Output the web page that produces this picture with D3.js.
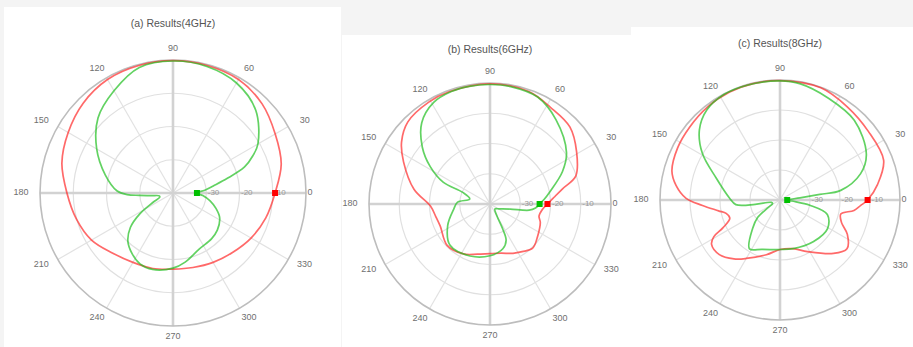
<!DOCTYPE html>
<html>
<head>
<meta charset="utf-8">
<script src="https://cdn.jsdelivr.net/npm/d3@7"></script>
<style>
  html, body { margin: 0; padding: 0; background: #f4f4f4; }
  svg { display: block; font-family: "Liberation Sans", Arial, sans-serif; }
</style>
</head>
<body>
<svg id="chart" width="913" height="347"></svg>
<script>
// ---- data (angles in degrees, levels in dB) ----
const titles = ["(a) Results(4GHz)", "(b) Results(6GHz)", "(c) Results(8GHz)"];
const angleTicks = [0, 30, 60, 90, 120, 150, 180, 210, 240, 270, 300, 330];
const radialTicks = [-30, -20, -10, 0];
const radialDomain = [-40, 0];

const red4Angles = [0,15,30,45,60,75,90,105,120,135,150,165,180,195,210,225,240,255,270,285,300,315,330,345];
const red4Db = [-9.3,-6.3,-4.5,-2.1,-0.6,-0.3,-0.2,-0.3,-0.6,-1.8,-3.6,-5.4,-8.1,-9.9,-11.7,-14.4,-15.9,-16.5,-17.1,-16.8,-15.9,-14.7,-12.9,-11.1];

const green4Angles = [0,5,10,15,20,25,30,45,60,75,90,105,120,135,150,165,178,182,184,187,192,198,205,212,219,227,236,245,255,270,280,295,310,320,332,340,348,355];
const green4Db = [-32.8,-30.4,-27.7,-23.2,-17.1,-13.5,-10.5,-4.8,-1.8,-0.6,-0.3,-0.9,-4.5,-8.1,-13.5,-18.9,-23.2,-26.2,-29.8,-33.4,-35.8,-35.8,-33.4,-28.3,-23.5,-20.1,-18.0,-16.5,-16.2,-17.4,-18.9,-21.4,-22.0,-22.6,-24.1,-26.2,-28.6,-31.0];

const red6Angles = [0,6,12,18,31,44,58,71,90,110,121,135,145,154,169,182,193,204,224,242,256,270,283,295,304,314,326,340,346,354];
const red6Db = [-21.0,-18.7,-15.4,-10.2,-6.6,-3.3,-2.3,-0.7,-0.3,-0.5,-0.7,-1.6,-4.3,-8.2,-14.4,-20.3,-21.6,-22.0,-20.3,-21.3,-22.9,-23.6,-23.3,-22.0,-21.0,-19.7,-21.0,-22.3,-23.3,-22.6];

const green6Angles = [0,5,11,24,34,52,66,80,90,100,109,119,130,140,148,155,157,166,177,188,207,226,249,270,286,294,297,300,315,333,346,351,355];
const green6Db = [-23.6,-22.0,-20.0,-13.8,-9.5,-4.6,-1.3,-0.6,-0.5,-0.5,-0.7,-1.6,-4.9,-10.8,-16.7,-22.9,-30.2,-33.1,-29.2,-27.9,-24.3,-21.0,-21.6,-22.9,-24.6,-26.9,-30.8,-35.4,-37.7,-36.4,-33.1,-26.9,-24.9];

const red8Angles = [0,9,21,38,54,70,90,103,115,128,141,153,165,172,179,184,190,194,200,206,209,213,222,232,240,256,270,285,298,315,324,333,340,347,352,356];
const red8Db = [-10.8,-7.1,-3.0,-2.7,-1.7,-0.2,-0.2,-0.2,-0.3,-0.7,-1.3,-1.7,-2.7,-5.0,-8.7,-14.1,-19.2,-21.5,-22.2,-18.8,-14.8,-12.8,-12.8,-15.1,-17.5,-21.2,-23.5,-23.2,-20.5,-14.8,-12.4,-14.8,-18.2,-19.2,-15.1,-13.1];

const green8Angles = [0,6,8,9,18,28,47,65,80,90,106,118,129,139,149,161,178,186,190,195,205,213,218,226,238,250,270,285,309,329,343,350,355];
const green8Db = [-37.6,-33.3,-26.6,-19.5,-11.8,-7.4,-3.7,-2.4,-0.7,-0.3,-0.2,-0.2,-1.3,-4.4,-9.8,-17.5,-23.2,-25.2,-31.6,-37.0,-37.3,-35.0,-30.6,-26.9,-20.8,-22.5,-23.5,-23.2,-22.2,-21.5,-23.5,-29.9,-36.0];

// ---- layout of the three polar panels ----
const panels = [
  { box: [4, 7, 337, 340],   cx: 173, cy: 193, R: 133, titleY: 24,
    red: [red4Angles, red4Db], green: [green4Angles, green4Db] },
  { box: [342, 35, 289, 312], cx: 490, cy: 204, R: 121, titleY: 50,
    red: [red6Angles, red6Db], green: [green6Angles, green6Db] },
  { box: [631, 27, 282, 320], cx: 780, cy: 200, R: 120, titleY: 44,
    red: [red8Angles, red8Db], green: [green8Angles, green8Db] }
];

const RED = "#ff2a2a", GREEN = "#1fbf1f";
const svg = d3.select("#chart");
const toRad = d => d * Math.PI / 180;

panels.forEach((p, i) => {
  svg.append("rect")
    .attr("x", p.box[0]).attr("y", p.box[1])
    .attr("width", p.box[2]).attr("height", p.box[3])
    .attr("fill", "#ffffff");

  svg.append("text")
    .attr("x", p.cx).attr("y", p.titleY)
    .attr("text-anchor", "middle")
    .attr("dominant-baseline", "middle")
    .attr("font-size", 10.5)
    .attr("fill", "#555")
    .text(titles[i]);

  const g = svg.append("g").attr("transform", `translate(${p.cx},${p.cy})`);
  const r = d3.scaleLinear().domain(radialDomain).range([0, p.R]);

  // inner rings
  g.selectAll("circle.ring").data(radialTicks.filter(d => d < radialDomain[1])).join("circle")
    .attr("class", "ring")
    .attr("r", d => r(d))
    .attr("fill", "none").attr("stroke", "#e0e0e0").attr("stroke-width", 1.2);

  // spokes every 30 degrees
  g.selectAll("line.spoke").data(angleTicks.filter(a => a % 90 !== 0)).join("line")
    .attr("class", "spoke")
    .attr("x1", 0).attr("y1", 0)
    .attr("x2", a => p.R * Math.cos(toRad(a)))
    .attr("y2", a => -p.R * Math.sin(toRad(a)))
    .attr("stroke", "#e2e2e2").attr("stroke-width", 1.2);

  // main axes
  [[0, 180], [90, 270]].forEach(([a1, a2]) => {
    g.append("line")
      .attr("x1", p.R * Math.cos(toRad(a1))).attr("y1", -p.R * Math.sin(toRad(a1)))
      .attr("x2", p.R * Math.cos(toRad(a2))).attr("y2", -p.R * Math.sin(toRad(a2)))
      .attr("stroke", "#d2d2d2").attr("stroke-width", 2.6);
  });

  // outer circle
  g.append("circle").attr("r", r(radialDomain[1]))
    .attr("fill", "none").attr("stroke", "#bdbdbd").attr("stroke-width", 1.6);

  // angle labels (the 0 position is taken by the radial "0" label)
  g.selectAll("text.ang").data(angleTicks.filter(a => a !== 0)).join("text")
    .attr("class", "ang")
    .attr("x", a => (p.R + 11) * Math.cos(toRad(a)) + 8 * Math.cos(toRad(a)))
    .attr("y", a => -(p.R + 11) * Math.sin(toRad(a)))
    .attr("text-anchor", "middle")
    .attr("dominant-baseline", "middle")
    .attr("font-size", 9)
    .attr("fill", "#6f6f6f")
    .text(a => a);

  // radial labels along the 0 degree axis
  g.selectAll("text.rad").data(radialTicks).join("text")
    .attr("class", "rad")
    .attr("x", d => r(d) + 1.5)
    .attr("y", 0)
    .attr("dominant-baseline", "middle")
    .attr("font-size", d => d === 0 ? 9 : 8)
    .attr("fill", d => d === 0 ? "#6f6f6f" : "#999")
    .text(d => d);

  // pattern curves
  const line = d3.lineRadial()
    .angle(d => toRad(90 - d[0]))
    .radius(d => r(d[1]))
    .curve(d3.curveCatmullRomClosed.alpha(0.5));

  [[p.red, RED], [p.green, GREEN]].forEach(([s, color]) => {
    const pts = s[0].map((a, k) => [a, s[1][k]]);
    g.append("path")
      .attr("d", line(pts))
      .attr("fill", "none")
      .attr("stroke", color)
      .attr("stroke-opacity", 0.7)
      .attr("stroke-width", 1.7);
  });

  // start markers at 0 degrees
  [[p.red, "#ff0000"], [p.green, "#00c000"]].forEach(([s, color]) => {
    const x = r(s[1][0]) * Math.cos(toRad(s[0][0]));
    const y = -r(s[1][0]) * Math.sin(toRad(s[0][0]));
    g.append("rect")
      .attr("x", x - 3).attr("y", y - 3)
      .attr("width", 6).attr("height", 6)
      .attr("fill", color);
  });
});
</script>
</body>
</html>
